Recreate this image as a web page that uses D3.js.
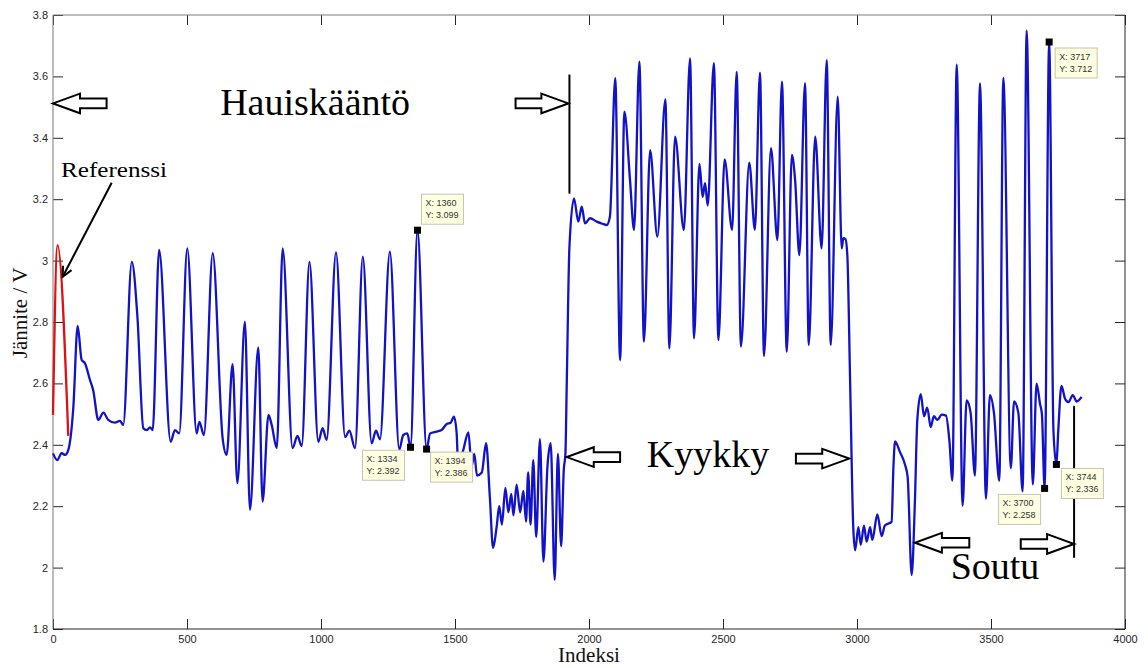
<!DOCTYPE html>
<html>
<head>
<meta charset="utf-8">
<script src="https://cdn.jsdelivr.net/npm/d3@7"></script>
<style>
  html, body { margin: 0; padding: 0; background: #ffffff; }
  svg { display: block; }
</style>
</head>
<body>
<svg id="chart" width="1148" height="668"></svg>
<script>
// ---------------- DATA ----------------
const xTicks = [0, 500, 1000, 1500, 2000, 2500, 3000, 3500, 4000];
const yTicks = [1.8, 2.0, 2.2, 2.4, 2.6, 2.8, 3.0, 3.2, 3.4, 3.6, 3.8];

// blue measured signal: [index, voltage]
const signal = [
  [0,2.372],[16,2.35],[32,2.373],[45,2.367],[57,2.383],[76,2.524],[92,2.787],[107,2.676],[119,2.666],
  [138,2.611],[150,2.578],[169,2.481],[188,2.505],[206,2.481],[231,2.472],[250,2.478],[262,2.465],
  [294,2.996],[315,2.817],[337,2.454],[350,2.448],[362,2.457],[372,2.448],[396,3.035],[439,2.41],
  [455,2.448],[471,2.437],[501,3.04],[536,2.437],[546,2.475],[563,2.432],[596,3.024],[633,2.421],
  [648,2.367],[670,2.663],[688,2.275],[716,2.801],[735,2.188],[766,2.717],[782,2.215],[804,2.497],
  [816,2.465],[835,2.389],[857,3.04],[894,2.389],[912,2.429],[928,2.396],[957,2.996],[990,2.41],
  [1006,2.454],[1021,2.416],[1056,3.027],[1090,2.425],[1106,2.446],[1127,2.389],[1156,3.013],
  [1189,2.405],[1205,2.446],[1220,2.418],[1257,3.029],[1292,2.385],[1307,2.432],[1322,2.437],
  [1334,2.392],[1360,3.099],[1394,2.386],[1407,2.437],[1432,2.443],[1450,2.448],[1469,2.468],
  [1484,2.472],[1496,2.492],[1506,2.44],[1512,2.33],[1530,2.38],[1550,2.44],[1562,2.33],[1572,2.37],
  [1582,2.30],[1600,2.31],[1616,2.405],[1630,2.23],[1642,2.064],[1655,2.13],[1665,2.20],[1675,2.14],
  [1688,2.26],[1699,2.18],[1710,2.24],[1718,2.17],[1730,2.27],[1743,2.18],[1755,2.25],[1765,2.15],
  [1773,2.31],[1782,2.14],[1792,2.35],[1803,2.10],[1817,2.418],[1830,2.02],[1845,2.33],[1857,2.405],
  [1872,1.96],[1884,2.37],[1896,2.07],[1906,2.32],[1912,2.37],[1917,2.6],[1927,3.045],[1944,3.203],
  [1960,3.127],[1973,3.176],[1985,3.121],[2004,3.138],[2029,3.127],[2050,3.12],[2066,3.116],
  [2078,3.143],[2098,3.594],[2116,2.676],[2132,3.485],[2153,3.263],[2168,3.1],[2188,3.648],
  [2205,2.736],[2228,3.36],[2255,3.078],[2285,3.525],[2300,2.714],[2321,3.404],[2354,3.1],
  [2377,3.659],[2392,2.747],[2412,3.315],[2424,3.208],[2433,3.252],[2443,3.18],[2466,3.643],
  [2483,2.741],[2506,3.33],[2534,3.1],[2551,3.615],[2567,2.72],[2598,3.319],[2619,3.1],[2638,3.612],
  [2653,2.689],[2679,3.366],[2703,3.067],[2720,3.583],[2738,2.703],[2757,3.344],[2769,3.263],
  [2785,3.018],[2806,3.578],[2820,2.725],[2844,3.404],[2868,3.04],[2887,3.653],[2902,2.725],
  [2928,3.534],[2943,3.04],[2949,3.073],[2957,3.07],[2964,3.016],[2974,2.621],[2986,2.132],
  [2993,2.056],[3005,2.132],[3014,2.074],[3026,2.137],[3036,2.085],[3049,2.132],[3057,2.09],
  [3076,2.173],[3092,2.103],[3104,2.137],[3129,2.149],[3136,2.33],[3142,2.411],[3160,2.377],
  [3179,2.336],[3189,2.295],[3204,1.976],[3216,2.214],[3225,2.481],[3238,2.565],[3250,2.493],
  [3262,2.521],[3275,2.458],[3287,2.493],[3300,2.481],[3316,2.498],[3332,2.495],[3345,2.411],
  [3356,2.283],[3372,3.638],[3394,2.202],[3409,2.545],[3424,2.504],[3440,2.30],[3459,3.577],
  [3481,2.225],[3496,2.562],[3511,2.504],[3531,2.283],[3546,3.595],[3574,2.324],[3586,2.541],
  [3602,2.504],[3618,2.248],[3633,3.749],[3656,2.271],[3670,2.599],[3683,2.533],[3690,2.50],
  [3700,2.258],[3717,3.712],[3733,2.446],[3744,2.336],[3751,2.446],[3763,2.592],[3776,2.551],
  [3789,2.539],[3805,2.562],[3820,2.541],[3838,2.556]
];

// red reference segment
const reference = [[0,2.497],[17,3.05],[57,2.429]];

// data tips (MATLAB data cursors)
const dataTips = [
  {x:1360, y:3.099}, {x:1334, y:2.392}, {x:1394, y:2.386},
  {x:3717, y:3.712}, {x:3700, y:2.258}, {x:3744, y:2.336}
];

// section labels
const sectionLabels = ["Hauiskääntö", "Kyykky", "Soutu"];
const xLabel = "Indeksi";
const yLabel = "Jännite / V";
const refLabel = "Referenssi";

// ---------------- LAYOUT ----------------
const L = 53, R = 1125, T = 15, B = 629;
const x = d3.scaleLinear().domain([0, 4000]).range([L, R]);
const y = d3.scaleLinear().domain([1.8, 3.8]).range([B, T]);
const svg = d3.select("#chart");

// tip box offsets (pixels relative to marker)
const tipOffsets = [[4,-36],[-48,3],[4,3],[6,6],[-46,6],[5,4]];

// ---------------- AXES ----------------
const sans = "'Liberation Sans', Arial, Helvetica, sans-serif";
const serif = "'Liberation Serif', 'Times New Roman', serif";
const fmtY = d => String(+d.toFixed(1));

function styleAxis(g) {
  g.select(".domain").remove();
  g.selectAll(".tick line").attr("stroke", "#262626").attr("stroke-width", 1);
  g.selectAll(".tick text").attr("font-family", sans).attr("font-size", 11).attr("fill", "#262626");
}

svg.append("g").attr("transform", `translate(0,${B})`)
  .call(d3.axisBottom(x).tickValues(xTicks).tickSize(-10).tickPadding(6).tickFormat(d3.format("d")))
  .call(styleAxis);
svg.append("g").attr("transform", `translate(0,${T})`)
  .call(d3.axisTop(x).tickValues(xTicks).tickSize(-10).tickFormat(""))
  .call(styleAxis);
svg.append("g").attr("transform", `translate(${L},0)`)
  .call(d3.axisLeft(y).tickValues(yTicks).tickSize(-10).tickPadding(5).tickFormat(fmtY))
  .call(styleAxis);
svg.append("g").attr("transform", `translate(${R},0)`)
  .call(d3.axisRight(y).tickValues(yTicks).tickSize(-10).tickFormat(""))
  .call(styleAxis);

// box
svg.append("line").attr("x1", L).attr("x2", R).attr("y1", T).attr("y2", T).attr("stroke", "#7a7a7a");
svg.append("line").attr("x1", L).attr("x2", L).attr("y1", T).attr("y2", B).attr("stroke", "#7a7a7a");
svg.append("line").attr("x1", L).attr("x2", R).attr("y1", B).attr("y2", B).attr("stroke", "#262626");
svg.append("line").attr("x1", R).attr("x2", R).attr("y1", T).attr("y2", B).attr("stroke", "#262626");

// axis labels
svg.append("text").attr("x", (L + R) / 2).attr("y", 662).attr("text-anchor", "middle")
  .attr("font-family", serif).attr("font-size", 21).attr("fill", "#111").text(xLabel);
svg.append("text").attr("transform", `translate(27,313) rotate(-90)`).attr("text-anchor", "middle")
  .attr("font-family", serif).attr("font-size", 21).attr("fill", "#111").text(yLabel);

// ---------------- LINES ----------------
const line = d3.line().x(d => x(d[0])).y(d => y(d[1])).curve(d3.curveMonotoneX);
svg.append("path").datum(signal).attr("d", line)
  .attr("fill", "none").attr("stroke", "#1212c8").attr("stroke-width", 2.3).attr("stroke-linejoin", "round");
svg.append("path").datum(reference).attr("d", line)
  .attr("fill", "none").attr("stroke", "#dd1111").attr("stroke-width", 2.3).attr("stroke-linejoin", "round");

// ---------------- ANNOTATIONS ----------------
// block arrows: tip index, tail index, y value
const arrows = [
  {tip:0, tail:200, v:3.512},
  {tip:1923, tail:1726, v:3.512},
  {tip:1917, tail:2116, v:2.36},
  {tip:2971, tail:2772, v:2.355},
  {tip:3216, tail:3419, v:2.081},
  {tip:3810, tail:3611, v:2.077}
];
arrows.forEach(a => {
  const tx = x(a.tip), sx = x(a.tail), cy = y(a.v);
  const dir = tx > sx ? 1 : -1;
  const hb = tx - dir * 27, s = 4.8, h = 9.8;
  const pts = [[sx, cy - s], [hb, cy - s], [hb, cy - h], [tx, cy], [hb, cy + h], [hb, cy + s], [sx, cy + s]];
  svg.append("path").attr("d", "M" + pts.map(p => p.join(",")).join("L") + "Z")
    .attr("fill", "#fff").attr("stroke", "#000").attr("stroke-width", 2).attr("stroke-linejoin", "miter");
});

// vertical markers
const vlines = [{i:1927, v1:3.606, v2:3.218}, {i:3810, v1:2.527, v2:2.032}];
vlines.forEach(vl => {
  svg.append("line").attr("x1", x(vl.i)).attr("x2", x(vl.i)).attr("y1", y(vl.v1)).attr("y2", y(vl.v2))
    .attr("stroke", "#000").attr("stroke-width", 2);
});

// section labels
const labelPos = [{i:978, v:3.474}, {i:2444, v:2.328}, {i:3515, v:1.962}];
sectionLabels.forEach((t, k) => {
  svg.append("text").attr("x", x(labelPos[k].i)).attr("y", y(labelPos[k].v)).attr("text-anchor", "middle")
    .attr("font-family", serif).attr("font-size", 38).attr("fill", "#000").text(t);
});

// Referenssi label + arrow
svg.append("text").attr("x", x(30)).attr("y", y(3.273))
  .attr("font-family", serif).attr("font-size", 21).attr("fill", "#000")
  .attr("textLength", 106).attr("lengthAdjust", "spacingAndGlyphs").text(refLabel);
(function () {
  const x1 = 111.7, y1 = 182.7, x2 = 62.7, y2 = 276.7;
  svg.append("line").attr("x1", x1).attr("y1", y1).attr("x2", x2).attr("y2", y2)
    .attr("stroke", "#000").attr("stroke-width", 2);
  const ang = Math.atan2(y2 - y1, x2 - x1), hl = 11, ha = 0.45;
  const p1 = [x2 - hl * Math.cos(ang - ha), y2 - hl * Math.sin(ang - ha)];
  const p2 = [x2 - hl * Math.cos(ang + ha), y2 - hl * Math.sin(ang + ha)];
  svg.append("path").attr("d", `M${p1}L${x2},${y2}L${p2}`)
    .attr("fill", "none").attr("stroke", "#000").attr("stroke-width", 2);
})();

// data tips
dataTips.forEach((d, k) => {
  const mx = x(d.x), my = y(d.y);
  const [dx, dy] = tipOffsets[k];
  const bx = mx + dx, by = my + dy, w = 42, h = 30;
  svg.append("rect").attr("x", bx).attr("y", by).attr("width", w).attr("height", h)
    .attr("fill", "#ffffe1").attr("stroke", "#c4c4b0").attr("stroke-width", 1);
  svg.append("text").attr("x", bx + 4).attr("y", by + 12).attr("font-family", sans)
    .attr("font-size", 9).attr("fill", "#333").text("X: " + d.x);
  svg.append("text").attr("x", bx + 4).attr("y", by + 24).attr("font-family", sans)
    .attr("font-size", 9).attr("fill", "#333").text("Y: " + d.y.toFixed(3));
  svg.append("rect").attr("x", mx - 3.5).attr("y", my - 3.5).attr("width", 7).attr("height", 7).attr("fill", "#000");
});
</script>
</body>
</html>
